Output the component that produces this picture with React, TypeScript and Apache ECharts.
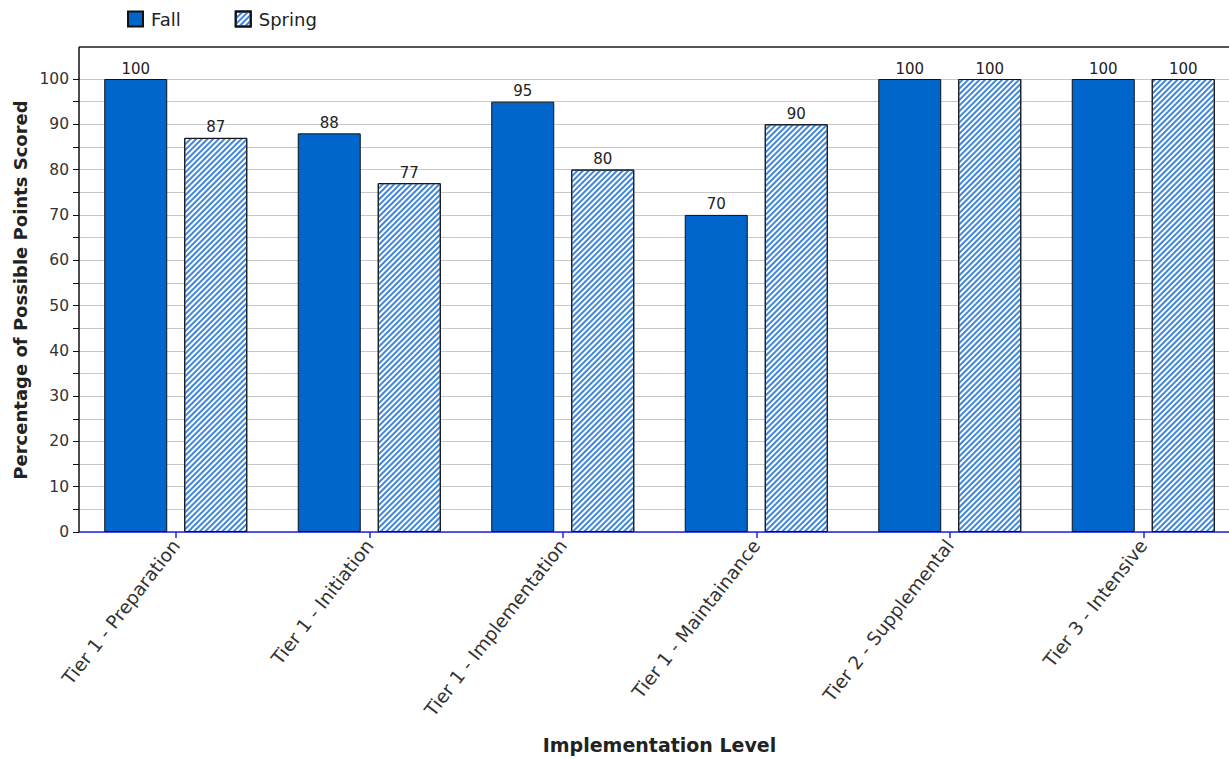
import React, { useEffect, useRef } from "react";
import * as echarts from "echarts";

const categories = [
  "Tier 1 - Preparation",
  "Tier 1 - Initiation",
  "Tier 1 - Implementation",
  "Tier 1 - Maintainance",
  "Tier 2 - Supplemental",
  "Tier 3 - Intensive",
];
const fallValues = [100, 88, 95, 70, 100, 100];
const springValues = [87, 77, 80, 90, 100, 100];
const seriesNames = ["Fall", "Spring"];
const yTitle = "Percentage of Possible Points Scored";
const xTitle = "Implementation Level";

const FONT = "DejaVu Sans, Verdana, sans-serif";

export default function App() {
  const ref = useRef<HTMLDivElement>(null);
  useEffect(() => {
    if (!ref.current) return;
    document.documentElement.style.overflow = "hidden";
    document.body.style.overflow = "hidden";
    const chart = echarts.init(ref.current, undefined, { renderer: "svg" });
    const springDecal = {
      symbol: "rect",
      symbolSize: 1,
      dashArrayX: [1, 0],
      dashArrayY: [1.2, 2],
      rotation: -Math.PI / 4,
      color: "#3f86dc",
    };
    chart.setOption({
      animation: false,
      backgroundColor: "#ffffff",
      textStyle: { fontFamily: FONT },
      legend: {
        left: 127,
        top: 10,
        padding: 0,
        itemWidth: 15,
        itemHeight: 15,
        itemGap: 54,
        icon: "rect",
        textStyle: { fontSize: 18, color: "#222", fontFamily: FONT, padding: [0, 0, 0, 3] },
        data: seriesNames,
      },
      grid: { left: 79, top: 79, width: 1161, bottom: 226, containLabel: false },
      xAxis: {
        type: "category",
        data: categories,
        boundaryGap: true,
        axisLine: { show: true, lineStyle: { color: "#2222ee", width: 1.5 } },
        axisTick: { show: true, alignWithLabel: true, length: 6, lineStyle: { color: "#2222ee", width: 1.5 } },
        axisLabel: {
          rotate: 52,
          margin: 10,
          interval: 0,
          fontSize: 18.5,
          color: "#333",
          fontFamily: FONT,
        },
        name: xTitle,
        nameLocation: "middle",
        nameGap: 203,
        nameTextStyle: { fontSize: 19, fontWeight: "bold", color: "#222", fontFamily: FONT },
        splitLine: { show: false },
      },
      yAxis: {
        type: "value",
        min: 0,
        max: 100,
        interval: 10,
        axisLine: { show: true, lineStyle: { color: "#111", width: 1.5 } },
        axisTick: { show: true, length: 6, lineStyle: { color: "#111" } },
        minorTick: { show: true, splitNumber: 2, length: 6, lineStyle: { color: "#111" } },
        splitLine: { show: true, lineStyle: { color: "#c8c8c8", width: 1 } },
        minorSplitLine: { show: true, lineStyle: { color: "#c8c8c8", width: 1 } },
        axisLabel: { margin: 10, fontSize: 15.5, color: "#333", fontFamily: FONT },
      },
      graphic: [
        {
          type: "line",
          shape: { x1: 79, y1: 47, x2: 1240, y2: 47 },
          style: { stroke: "#555", lineWidth: 2 },
          silent: true,
        },
        {
          type: "line",
          shape: { x1: 79, y1: 47, x2: 79, y2: 80 },
          style: { stroke: "#111", lineWidth: 1.5 },
          silent: true,
        },
        {
          type: "text",
          x: 20,
          y: 290,
          rotation: Math.PI / 2,
          style: {
            text: yTitle,
            textAlign: "center",
            textVerticalAlign: "middle",
            fontSize: 18,
            fontWeight: "bold",
            fontFamily: FONT,
            fill: "#222",
          },
          silent: true,
        },
      ],
      series: [
        {
          name: seriesNames[0],
          type: "bar",
          data: fallValues,
          barWidth: 63,
          barGap: "27%",
          itemStyle: { color: "#0066cc", borderColor: "#111", borderWidth: 1 },
          label: { show: true, position: "top", distance: 3, fontSize: 15, color: "#222", fontFamily: FONT },
        },
        {
          name: seriesNames[1],
          type: "bar",
          data: springValues,
          barWidth: 63,
          barGap: "27%",
          itemStyle: { color: "#ffffff", borderColor: "#111", borderWidth: 1, decal: springDecal },
          label: { show: true, position: "top", distance: 3, fontSize: 15, color: "#222", fontFamily: FONT },
        },
      ],
    });
    return () => chart.dispose();
  }, []);
  return (
    <div
      ref={ref}
      style={{ position: "fixed", left: 0, top: 0, width: 1240, height: 759 }}
    />
  );
}
